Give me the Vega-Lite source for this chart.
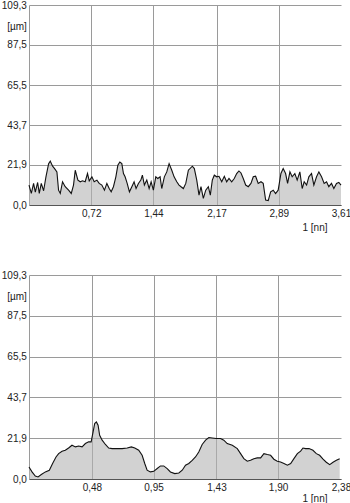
{
  "$schema": "https://vega.github.io/schema/vega-lite/v6.json",
  "background": "white",
  "padding": {"left": 1, "top": 0, "right": 0, "bottom": 0},
  "bounds": "flush",
  "spacing": 70,
  "config": {
    "view": {"stroke": null},
    "font": "Liberation Sans",
    "axis": {
      "labelFont": "Liberation Sans", "labelFontSize": 10, "labelColor": "#222",
      "titleFont": "Liberation Sans", "titleFontSize": 10, "titleFontWeight": "normal", "titleColor": "#222",
      "ticks": false, "tickSize": 0,
      "gridColor": "#9a9a9a", "gridWidth": 1,
      "domainWidth": 1, "labelOverlap": false, "labelFlush": false, "labelBound": false
    }
  },
  "datasets": {
    "top": [
      {"x": 0, "y": 10.9}, {"x": 0.027, "y": 6.3}, {"x": 0.053, "y": 11.8}, {"x": 0.073, "y": 7.0},
      {"x": 0.1, "y": 12.3}, {"x": 0.119, "y": 6.3}, {"x": 0.142, "y": 11.8}, {"x": 0.169, "y": 7.8},
      {"x": 0.196, "y": 15.4}, {"x": 0.227, "y": 22.6}, {"x": 0.246, "y": 24.0}, {"x": 0.273, "y": 21.2},
      {"x": 0.296, "y": 19.9}, {"x": 0.323, "y": 18.1}, {"x": 0.342, "y": 8.1}, {"x": 0.362, "y": 6.3},
      {"x": 0.388, "y": 12.7}, {"x": 0.419, "y": 10.0}, {"x": 0.458, "y": 8.1}, {"x": 0.489, "y": 6.3},
      {"x": 0.515, "y": 10.9}, {"x": 0.535, "y": 19.0}, {"x": 0.566, "y": 13.6}, {"x": 0.593, "y": 12.7},
      {"x": 0.619, "y": 13.2}, {"x": 0.65, "y": 12.7}, {"x": 0.677, "y": 17.2}, {"x": 0.697, "y": 13.2},
      {"x": 0.728, "y": 15.4}, {"x": 0.754, "y": 12.7}, {"x": 0.786, "y": 13.6}, {"x": 0.812, "y": 11.8},
      {"x": 0.843, "y": 10.9}, {"x": 0.873, "y": 8.1}, {"x": 0.901, "y": 11.8}, {"x": 0.928, "y": 9.0},
      {"x": 0.951, "y": 7.2}, {"x": 0.977, "y": 10.0}, {"x": 1.005, "y": 15.4}, {"x": 1.028, "y": 21.7},
      {"x": 1.051, "y": 23.5}, {"x": 1.074, "y": 22.6}, {"x": 1.093, "y": 17.2}, {"x": 1.112, "y": 15.4},
      {"x": 1.136, "y": 11.8}, {"x": 1.162, "y": 7.2}, {"x": 1.19, "y": 10.0}, {"x": 1.216, "y": 12.7},
      {"x": 1.239, "y": 9.0}, {"x": 1.266, "y": 11.8}, {"x": 1.294, "y": 13.6}, {"x": 1.312, "y": 16.3},
      {"x": 1.335, "y": 10.9}, {"x": 1.363, "y": 13.6}, {"x": 1.39, "y": 9.0}, {"x": 1.413, "y": 12.7},
      {"x": 1.439, "y": 8.1}, {"x": 1.467, "y": 15.4}, {"x": 1.49, "y": 14.5}, {"x": 1.517, "y": 15.4},
      {"x": 1.536, "y": 9.0}, {"x": 1.566, "y": 15.4}, {"x": 1.594, "y": 18.1}, {"x": 1.621, "y": 22.6},
      {"x": 1.652, "y": 19.0}, {"x": 1.679, "y": 15.4}, {"x": 1.71, "y": 12.7}, {"x": 1.736, "y": 10.9},
      {"x": 1.759, "y": 10.0}, {"x": 1.786, "y": 9.0}, {"x": 1.814, "y": 11.8}, {"x": 1.844, "y": 19.0},
      {"x": 1.89, "y": 21.2}, {"x": 1.913, "y": 19.9}, {"x": 1.941, "y": 13.6}, {"x": 1.967, "y": 5.4},
      {"x": 1.99, "y": 10.0}, {"x": 2.017, "y": 3.6}, {"x": 2.045, "y": 8.1}, {"x": 2.075, "y": 10.0},
      {"x": 2.098, "y": 5.4}, {"x": 2.121, "y": 13.6}, {"x": 2.144, "y": 16.3}, {"x": 2.172, "y": 15.4},
      {"x": 2.198, "y": 15.7}, {"x": 2.23, "y": 12.7}, {"x": 2.26, "y": 15.7}, {"x": 2.287, "y": 12.7},
      {"x": 2.314, "y": 14.5}, {"x": 2.345, "y": 12.7}, {"x": 2.375, "y": 14.5}, {"x": 2.403, "y": 17.2},
      {"x": 2.429, "y": 18.6}, {"x": 2.453, "y": 17.5}, {"x": 2.479, "y": 14.5}, {"x": 2.507, "y": 10.9},
      {"x": 2.537, "y": 10.0}, {"x": 2.568, "y": 11.8}, {"x": 2.595, "y": 15.4}, {"x": 2.622, "y": 15.7},
      {"x": 2.652, "y": 11.8}, {"x": 2.684, "y": 12.7}, {"x": 2.71, "y": 11.8}, {"x": 2.738, "y": 2.7},
      {"x": 2.768, "y": 2.4}, {"x": 2.796, "y": 7.2}, {"x": 2.826, "y": 8.1}, {"x": 2.853, "y": 6.3},
      {"x": 2.883, "y": 8.1}, {"x": 2.915, "y": 17.2}, {"x": 2.941, "y": 19.9}, {"x": 2.969, "y": 17.2},
      {"x": 2.992, "y": 11.8}, {"x": 3.019, "y": 18.1}, {"x": 3.045, "y": 15.4}, {"x": 3.076, "y": 17.2},
      {"x": 3.103, "y": 13.6}, {"x": 3.134, "y": 18.1}, {"x": 3.161, "y": 9.0}, {"x": 3.184, "y": 12.7},
      {"x": 3.212, "y": 10.9}, {"x": 3.238, "y": 15.4}, {"x": 3.269, "y": 17.2}, {"x": 3.296, "y": 10.9},
      {"x": 3.327, "y": 15.4}, {"x": 3.354, "y": 18.1}, {"x": 3.385, "y": 15.4}, {"x": 3.415, "y": 11.8},
      {"x": 3.443, "y": 12.7}, {"x": 3.469, "y": 10.0}, {"x": 3.5, "y": 11.8}, {"x": 3.527, "y": 9.0},
      {"x": 3.558, "y": 11.8}, {"x": 3.585, "y": 12.3}, {"x": 3.61, "y": 10.9}
    ],
    "bottom": [
      {"x": 0, "y": 6.4}, {"x": 0.023, "y": 3.8}, {"x": 0.048, "y": 1.6}, {"x": 0.069, "y": 1.1},
      {"x": 0.094, "y": 2.4}, {"x": 0.125, "y": 3.8}, {"x": 0.155, "y": 4.7}, {"x": 0.18, "y": 8.3},
      {"x": 0.206, "y": 11.8}, {"x": 0.226, "y": 13.6}, {"x": 0.252, "y": 14.9}, {"x": 0.277, "y": 15.4},
      {"x": 0.302, "y": 16.6}, {"x": 0.328, "y": 18.1}, {"x": 0.354, "y": 17.2}, {"x": 0.379, "y": 17.7},
      {"x": 0.405, "y": 17.2}, {"x": 0.43, "y": 19.0}, {"x": 0.455, "y": 19.9}, {"x": 0.474, "y": 19.9},
      {"x": 0.489, "y": 25.2}, {"x": 0.501, "y": 29.7}, {"x": 0.514, "y": 30.6}, {"x": 0.527, "y": 28.8},
      {"x": 0.539, "y": 23.4}, {"x": 0.558, "y": 20.8}, {"x": 0.583, "y": 18.5}, {"x": 0.608, "y": 16.6},
      {"x": 0.634, "y": 16.3}, {"x": 0.672, "y": 16.3}, {"x": 0.71, "y": 16.3}, {"x": 0.749, "y": 16.6},
      {"x": 0.781, "y": 17.2}, {"x": 0.807, "y": 16.6}, {"x": 0.837, "y": 15.4}, {"x": 0.863, "y": 12.7},
      {"x": 0.883, "y": 8.3}, {"x": 0.901, "y": 4.7}, {"x": 0.926, "y": 3.8}, {"x": 0.952, "y": 4.1},
      {"x": 0.978, "y": 5.6}, {"x": 1.003, "y": 7.0}, {"x": 1.028, "y": 7.0}, {"x": 1.054, "y": 5.6},
      {"x": 1.079, "y": 3.8}, {"x": 1.112, "y": 2.9}, {"x": 1.143, "y": 3.2}, {"x": 1.169, "y": 4.7},
      {"x": 1.194, "y": 7.4}, {"x": 1.219, "y": 8.3}, {"x": 1.245, "y": 10.0}, {"x": 1.27, "y": 11.8},
      {"x": 1.295, "y": 14.5}, {"x": 1.321, "y": 18.5}, {"x": 1.347, "y": 20.8}, {"x": 1.372, "y": 22.2},
      {"x": 1.398, "y": 22.0}, {"x": 1.428, "y": 21.7}, {"x": 1.461, "y": 21.7}, {"x": 1.486, "y": 20.8},
      {"x": 1.512, "y": 19.0}, {"x": 1.551, "y": 18.1}, {"x": 1.589, "y": 16.3}, {"x": 1.614, "y": 13.6},
      {"x": 1.639, "y": 10.9}, {"x": 1.665, "y": 9.5}, {"x": 1.69, "y": 10.0}, {"x": 1.715, "y": 10.9},
      {"x": 1.741, "y": 11.3}, {"x": 1.767, "y": 11.3}, {"x": 1.792, "y": 13.6}, {"x": 1.818, "y": 13.1},
      {"x": 1.843, "y": 12.7}, {"x": 1.868, "y": 10.6}, {"x": 1.894, "y": 9.5}, {"x": 1.919, "y": 9.1},
      {"x": 1.945, "y": 8.3}, {"x": 1.971, "y": 7.4}, {"x": 1.996, "y": 8.3}, {"x": 2.021, "y": 10.9},
      {"x": 2.047, "y": 13.6}, {"x": 2.072, "y": 14.9}, {"x": 2.09, "y": 16.6}, {"x": 2.11, "y": 16.3},
      {"x": 2.136, "y": 16.3}, {"x": 2.166, "y": 15.4}, {"x": 2.192, "y": 13.6}, {"x": 2.217, "y": 12.7},
      {"x": 2.243, "y": 10.6}, {"x": 2.268, "y": 9.0}, {"x": 2.294, "y": 7.7}, {"x": 2.319, "y": 9.0},
      {"x": 2.345, "y": 10.0}, {"x": 2.37, "y": 10.9}
    ]
  },
  "vconcat": [
    {
      "width": 312,
      "height": 200,
      "data": {"name": "top"},
      "mark": {"type": "area", "color": "#b4b4b4", "fillOpacity": 0.6, "line": {"color": "#111", "strokeWidth": 1.1}},
      "encoding": {
        "x": {
          "field": "x", "type": "quantitative",
          "scale": {"domain": [0, 3.61], "nice": false, "zero": false},
          "axis": {
            "values": [0.72, 1.44, 2.17, 2.89, 3.61],
            "labelExpr": "replace(format(datum.value, '.2f'), '.', ',')",
            "labelPadding": 3.5,
            "title": "1 [nn]", "titleAlign": "right", "titleX": 298, "titleY": 22.5, "titleBaseline": "middle",
            "domainColor": "#555",
            "gridOpacity": {"condition": {"test": "datum.value > 3.6", "value": 0}, "value": 1}
          }
        },
        "y": {
          "field": "y", "type": "quantitative",
          "scale": {"domain": [0, 109.3], "nice": false},
          "axis": {
            "values": [0, 21.9, 43.7, 65.5, 87.5, 109.3],
            "labelExpr": "replace(format(datum.value, '.1f'), '.', ',')",
            "labelPadding": 2.7,
            "title": "[µm]", "titleAngle": 0, "titleAlign": "right", "titleX": -2.7, "titleY": 21, "titleBaseline": "middle",
            "domainColor": "#9a9a9a"
          }
        }
      }
    },
    {
      "width": 312,
      "height": 204,
      "data": {"name": "bottom"},
      "mark": {"type": "area", "color": "#b4b4b4", "fillOpacity": 0.6, "line": {"color": "#111", "strokeWidth": 1.1}},
      "encoding": {
        "x": {
          "field": "x", "type": "quantitative",
          "scale": {"domain": [0, 2.38], "nice": false, "zero": false},
          "axis": {
            "values": [0.48, 0.95, 1.43, 1.9, 2.38],
            "labelExpr": "replace(format(datum.value, '.2f'), '.', ',')",
            "labelPadding": 3.5,
            "title": "1 [nn]", "titleAlign": "right", "titleX": 298, "titleY": 19, "titleBaseline": "middle",
            "domainColor": "#555",
            "gridOpacity": {"condition": {"test": "datum.value > 2.37", "value": 0}, "value": 1}
          }
        },
        "y": {
          "field": "y", "type": "quantitative",
          "scale": {"domain": [0, 109.3], "nice": false},
          "axis": {
            "values": [0, 21.9, 43.7, 65.5, 87.5, 109.3],
            "labelExpr": "replace(format(datum.value, '.1f'), '.', ',')",
            "labelPadding": 2.7,
            "title": "[µm]", "titleAngle": 0, "titleAlign": "right", "titleX": -2.7, "titleY": 21, "titleBaseline": "middle",
            "domainColor": "#9a9a9a"
          }
        }
      }
    }
  ]
}
